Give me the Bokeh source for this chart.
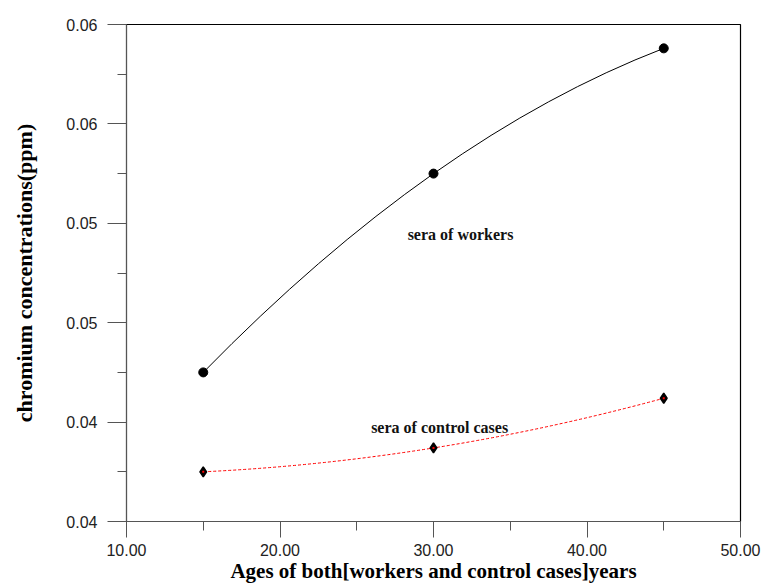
from bokeh.plotting import figure
from bokeh.models import FixedTicker, Label, Range1d
from bokeh.embed import file_html
from bokeh.resources import INLINE

# data
ages = [15, 30, 45]
workers = [0.0425, 0.0525, 0.0588]
controls = [0.0375, 0.0387, 0.0412]

x_ticks = [10, 20, 30, 40, 50]
x_minor = [15, 25, 35, 45]
x_tick_labels = ["10.00", "20.00", "30.00", "40.00", "50.00"]
y_ticks = [0.035, 0.040, 0.045, 0.050, 0.055, 0.060]
y_minor = [0.0375, 0.0425, 0.0475, 0.0525, 0.0575]
y_tick_labels = ["0.04", "0.04", "0.05", "0.05", "0.06", "0.06"]

p = figure(width=765, height=585, output_backend="svg", toolbar_location=None,
           x_range=Range1d(10, 50), y_range=Range1d(0.035, 0.060),
           min_border_left=126, min_border_right=25, min_border_top=24,
           min_border_bottom=63)
p.grid.visible = False
p.outline_line_color = "black"
p.outline_line_width = 1.2
p.background_fill_color = "white"
p.border_fill_color = "white"

axcol = "#555555"
for ax in (p.xaxis[0], p.yaxis[0]):
    ax.axis_line_color = axcol
    ax.major_tick_line_color = axcol
    ax.minor_tick_line_color = axcol
    ax.major_tick_in = 0
    ax.minor_tick_in = 0
    ax.major_label_text_font = "Liberation Sans"
    ax.major_label_text_font_size = "16px"
    ax.major_label_text_color = "#222222"
    ax.axis_label_text_font = "Liberation Serif"
    ax.axis_label_text_font_style = "bold"
    ax.axis_label_text_color = "black"

p.xaxis[0].ticker = FixedTicker(ticks=x_ticks, minor_ticks=x_minor)
p.xaxis[0].major_label_overrides = {t: l for t, l in zip(x_ticks, x_tick_labels)}
p.xaxis[0].major_tick_out = 16
p.xaxis[0].minor_tick_out = 9
p.xaxis[0].major_label_standoff = 6
p.xaxis[0].axis_label = "Ages of both[workers and control cases]years"
p.xaxis[0].axis_label_text_font_size = "21px"
p.xaxis[0].axis_label_standoff = 0

p.yaxis[0].ticker = FixedTicker(ticks=y_ticks, minor_ticks=y_minor)
p.yaxis[0].major_label_overrides = {t: l for t, l in zip(y_ticks, y_tick_labels)}
p.yaxis[0].major_tick_out = 19
p.yaxis[0].minor_tick_out = 9
p.yaxis[0].major_label_standoff = 10
p.yaxis[0].axis_label = "chromium concentrations(ppm)"
p.yaxis[0].axis_label_text_font_size = "22px"
p.yaxis[0].axis_label_standoff = 26

# smooth curves: quadratic bezier through the three points (midpoint x is centred)
def ctrl(ys):
    return 2 * ys[1] - (ys[0] + ys[2]) / 2

p.quadratic(x0=[ages[0]], y0=[workers[0]], x1=[ages[2]], y1=[workers[2]],
            cx=[2 * ages[1] - (ages[0] + ages[2]) / 2], cy=[ctrl(workers)],
            line_color="black", line_width=1)
p.quadratic(x0=[ages[0]], y0=[controls[0]], x1=[ages[2]], y1=[controls[2]],
            cx=[2 * ages[1] - (ages[0] + ages[2]) / 2], cy=[ctrl(controls)],
            line_color="red", line_width=1, line_dash="3 2")

p.scatter(ages, workers, marker="circle", size=9, fill_color="black", line_color="black")
p.scatter(ages, controls, marker="diamond", size=10, fill_color="black",
          line_color="black", line_width=1.5)
p.scatter(ages, controls, marker="square", size=2, fill_color="red", line_color=None)

p.add_layout(Label(x=31.76, y=0.04946, text="sera of workers", text_align="center",
                   text_baseline="middle", text_font="Liberation Serif",
                   text_font_style="bold", text_font_size="16px", text_color="#111111"))
p.add_layout(Label(x=30.4, y=0.03975, text="sera of control cases", text_align="center",
                   text_baseline="middle", text_font="Liberation Serif",
                   text_font_style="bold", text_font_size="16px", text_color="#111111"))

open("out.html", "w").write(file_html(p, INLINE))
